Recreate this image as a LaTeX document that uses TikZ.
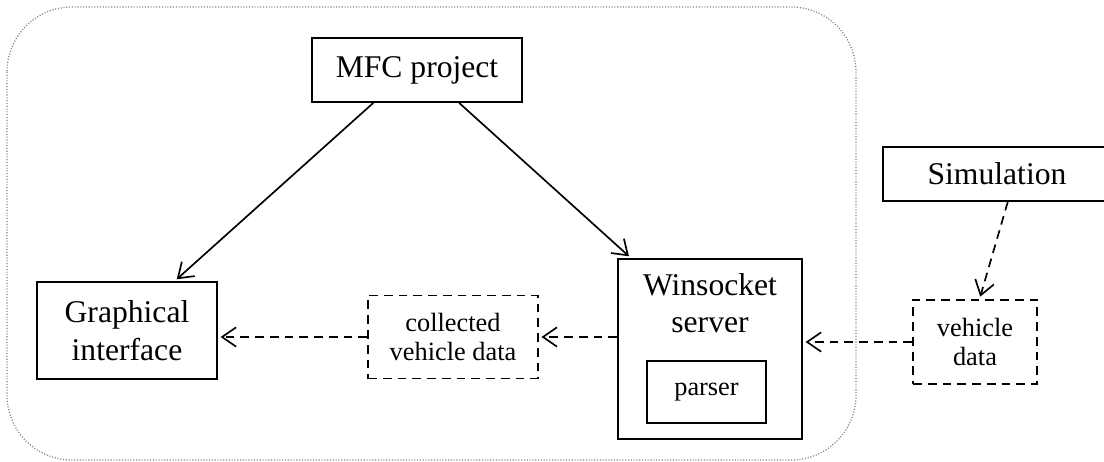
\documentclass[tikz,border=0pt]{standalone}
\usepackage{fontspec}
\setmainfont{Liberation Serif}
\usetikzlibrary{arrows.meta}
\tikzstyle{box_solid} = [rectangle, draw, line width=1.1pt, inner sep=0pt, align=center, font=\fontsize{18}{21.4}\selectfont]
\tikzstyle{box_dashed} = [rectangle, draw, dashed, dash pattern=on 5pt off 3.4pt, line width=0.95pt, inner sep=0pt, align=center, font=\fontsize{15}{17}\selectfont]
\tikzstyle{edge_solid} = [line width=0.95pt, -{Straight Barb[length=8pt,width=11pt]}, shorten >=1.5pt]
\tikzstyle{edge_dashed} = [edge_solid, dash pattern=on 5pt off 3.4pt]
\tikzstyle{frame_dotted} = [draw=gray, line width=0.7pt, dash pattern=on 0.6pt off 1pt, rounded corners=1.3cm]

\begin{document}
\begin{tikzpicture}[x=0.02cm, y=-0.02cm]
\useasboundingbox (0,0) rectangle (1104,462);
\draw[frame_dotted] (7,7) rectangle (856,460);
\node (mfc) at (417,70) [box_solid, minimum width=210*0.02cm, minimum height=64*0.02cm] {MFC project};
\node (gui) at (127,330.5) [box_solid, minimum width=180*0.02cm, minimum height=97*0.02cm] {Graphical\\interface};
\node (collected) at (453,337) [box_dashed, minimum width=170*0.02cm, minimum height=83*0.02cm] {collected\\vehicle data};
\node (server) at (710,349) [box_solid, minimum width=184*0.02cm, minimum height=180*0.02cm] {};
\node (server_label) at (710,303) [font=\fontsize{18}{21.4}\selectfont, align=center] {Winsocket\\server};
\node (parser) at (706.5,392) [box_solid, font=\fontsize{15}{17}\selectfont, minimum width=119*0.02cm, minimum height=62*0.02cm] {parser};
\node (sim) at (997,174) [box_solid, minimum width=228*0.02cm, minimum height=54*0.02cm] {Simulation};
\node (vdata) at (975,342) [box_dashed, minimum width=124*0.02cm, minimum height=84*0.02cm] {vehicle\\data};
\draw[edge_solid] (mfc.217.3) -- (gui.46);
\draw[edge_solid] (mfc.-38.7) -- (server.131);
\draw[edge_dashed] (collected.west) -- (collected.west -| gui.east);
\draw[edge_dashed] (collected.east -| server.west) -- (collected.east);
\draw[edge_dashed] (vdata.west) -- (vdata.west -| server.east);
\draw[edge_dashed] (sim.-69.7) -- (vdata.84);
\end{tikzpicture}
\end{document}
